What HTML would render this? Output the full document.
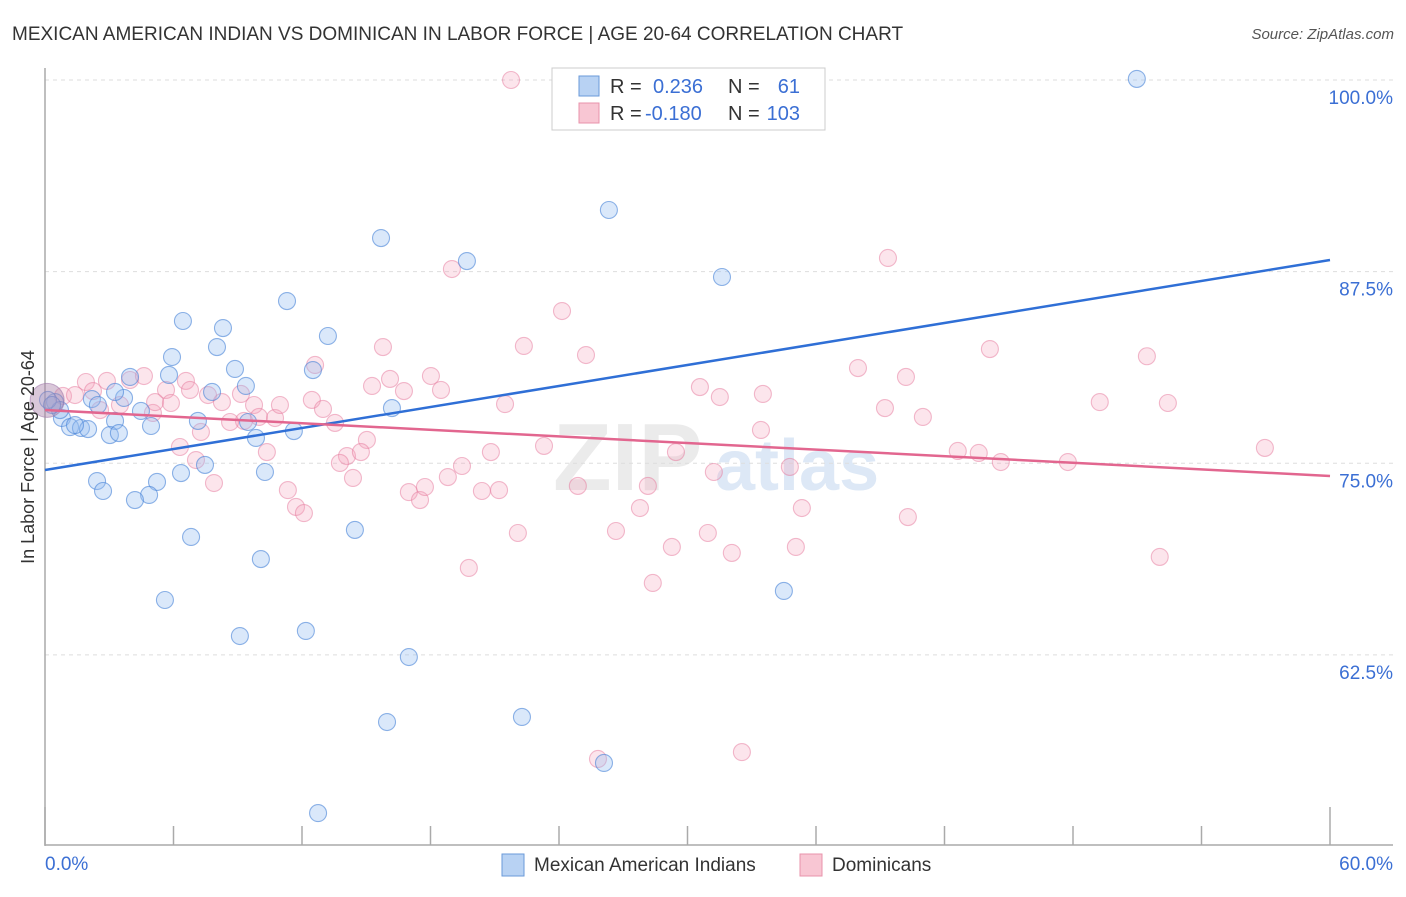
<!DOCTYPE html>
<html><head><meta charset="utf-8"><style>
body{margin:0;background:#fff;font-family:"Liberation Sans",sans-serif;}
svg text{font-family:"Liberation Sans",sans-serif;}
</style></head><body>
<svg id="chart" width="1406" height="892" xmlns="http://www.w3.org/2000/svg">
<text x="12" y="40" font-size="19" fill="#333">MEXICAN AMERICAN INDIAN VS DOMINICAN IN LABOR FORCE | AGE 20-64 CORRELATION CHART</text>
<text x="1394" y="39" font-size="15" fill="#555" font-style="italic" text-anchor="end">Source: ZipAtlas.com</text>
<g>
<text x="553" y="490" font-size="96" font-family="Liberation Serif" fill="#ebebeb" font-weight="bold">ZIP</text>
<text x="715" y="490" font-size="72" fill="#dde8f6" font-weight="bold">atlas</text>
</g>
<g id="grid"></g>
<g id="axes"></g>
<g id="marks"></g>
<text transform="translate(34,457) rotate(-90)" font-size="18" fill="#333" text-anchor="middle">In Labor Force | Age 20-64</text>
<g>
<rect x="552" y="68" width="273" height="62" fill="#fff" stroke="#ccc"/>
<rect x="579" y="76" width="20" height="20" fill="#b8d2f3" stroke="#6a9ad8"/>
<rect x="579" y="103" width="20" height="20" fill="#f8c6d3" stroke="#e893ab"/>
<text x="610" y="93" font-size="20" fill="#333">R = </text>
<text x="653" y="93" font-size="20" fill="#3b6fd4">0.236</text>
<text x="728" y="93" font-size="20" fill="#333">N =</text>
<text x="800" y="93" font-size="20" fill="#3b6fd4" text-anchor="end">61</text>
<text x="610" y="120" font-size="20" fill="#333">R = </text>
<text x="645" y="120" font-size="20" fill="#3b6fd4">-0.180</text>
<text x="728" y="120" font-size="20" fill="#333">N =</text>
<text x="800" y="120" font-size="20" fill="#3b6fd4" text-anchor="end">103</text>
</g>
<g>
<rect x="502" y="854" width="22" height="22" fill="#b8d2f3" stroke="#6a9ad8"/>
<text x="534" y="871" font-size="19" fill="#333">Mexican American Indians</text>
<rect x="800" y="854" width="22" height="22" fill="#f8c6d3" stroke="#e893ab"/>
<text x="832" y="871" font-size="19" fill="#333">Dominicans</text>
</g>
</svg>
<script>
const xTicks=[0,6,12,18,24,30,36,42,48,54,60];
const yTicks=[100,87.5,75,62.5];
const yTickLabels=["100.0%","87.5%","75.0%","62.5%"];
const xLabels=["0.0%","60.0%"];
const blueX=[50.98,26.33,15.69,19.70,31.61,11.30,6.44,8.31,13.21,8.03,5.93,8.87,12.51,5.79,3.97,9.38,7.80,2.19,3.69,16.20,4.48,7.14,3.27,0.79,4.95,1.17,1.68,2.01,11.62,3.03,3.45,9.85,7.47,6.35,10.27,2.43,5.23,2.71,4.86,4.20,14.47,6.82,10.08,5.60,34.50,12.18,9.10,16.99,15.97,22.27,26.10,12.75,0.47,0.70,0.14,0.33,1.40,9.48,2.47,3.27];
const blueY=[100.07,91.52,89.69,88.19,87.15,85.58,84.28,83.82,83.30,82.58,81.93,81.15,81.08,80.76,80.63,80.04,79.65,79.19,79.26,78.60,78.41,77.76,77.76,77.95,77.43,77.36,77.30,77.23,77.10,76.84,76.97,76.65,74.89,74.36,74.43,73.84,73.78,73.19,72.93,72.60,70.65,70.19,68.75,66.08,66.67,64.06,63.73,62.36,58.12,58.45,55.45,52.18,78.99,78.47,79.13,78.80,77.49,77.69,78.80,79.65];
const pinkX=[21.76,19.00,39.36,24.14,44.12,51.45,15.78,22.36,25.26,12.61,37.96,40.20,18.02,30.58,33.52,31.51,49.25,52.43,39.22,40.99,21.48,15.27,16.11,18.49,16.76,6.58,2.89,1.91,3.97,4.62,5.65,9.15,2.24,0.84,1.40,2.57,3.50,5.04,5.14,5.88,7.61,8.26,9.76,9.99,9.29,10.74,10.97,12.46,12.98,13.54,15.03,14.10,13.77,14.75,14.38,10.36,6.30,7.05,7.28,8.64,7.89,11.34,11.72,12.09,16.99,17.51,17.74,18.81,19.47,20.40,21.20,20.82,23.30,24.88,22.08,19.79,26.66,27.78,28.15,29.46,31.23,29.27,30.95,32.07,33.43,34.78,35.06,35.34,28.38,42.62,43.60,44.63,47.76,40.29,52.05,56.96,25.82,32.54,6.77];
const pinkY=[100.0,87.67,88.39,84.93,82.45,81.98,82.58,82.65,82.06,81.41,81.21,80.63,80.69,79.97,79.52,79.32,78.99,78.93,78.60,78.02,78.86,80.04,80.50,79.78,79.71,80.37,80.37,80.30,80.43,80.69,79.78,79.52,79.71,79.39,79.45,78.47,78.80,78.28,78.99,78.93,79.45,78.99,78.80,78.02,77.76,77.95,78.80,79.13,78.54,77.63,76.52,75.47,75.02,75.73,74.04,75.73,76.06,75.21,77.04,77.69,73.71,73.25,72.15,71.75,73.12,72.60,73.45,74.10,74.82,73.19,73.25,75.73,76.13,73.52,70.45,68.17,70.58,72.08,73.52,75.73,74.43,69.54,70.45,69.15,77.17,74.76,69.54,72.08,67.19,75.80,75.67,75.08,75.08,71.49,68.89,76.00,55.71,56.16,79.78];
const blueTrend=[74.56,88.26];
const pinkTrend=[78.47,74.17];
const trendX=[0,60];
const NS="http://www.w3.org/2000/svg";
function sx(v){return 45+v*(1285/60);}
function sy(v){return 80+(100-v)*15.33;}
function mk(tag,attrs,parent){const e=document.createElementNS(NS,tag);for(const k in attrs)e.setAttribute(k,attrs[k]);parent.appendChild(e);return e;}
const grid=document.getElementById('grid'),axes=document.getElementById('axes'),marks=document.getElementById('marks');
yTicks.forEach((t,i)=>{
  const l=mk('line',{x1:45,x2:1393,y1:sy(t),y2:sy(t),stroke:'#ddd','stroke-dasharray':'4,4'},grid);
  
  
  const tx=mk('text',{x:1393,y:sy(t)+24,'font-size':19,fill:'#3b6fd4','text-anchor':'end'},grid);
  tx.textContent=yTickLabels[i];
  
  
});
const ya=mk('line',{x1:45,x2:45,y1:68,y2:846,stroke:'#aaa','stroke-width':1.5},axes);


const xa=mk('line',{x1:45,x2:1393,y1:845,y2:845,stroke:'#aaa','stroke-width':1.5},axes);


xTicks.forEach((t,i)=>{
  const big=(i===0||i===xTicks.length-1);
  const tk=mk('line',{x1:sx(t),x2:sx(t),y1:big?807:826,y2:845,stroke:'#aaa','stroke-width':1.5},axes);
  
  
});
const xl0=mk('text',{x:45,y:870,'font-size':19,fill:'#3b6fd4'},axes);xl0.textContent=xLabels[0];


const xl1=mk('text',{x:1393,y:870,'font-size':19,fill:'#3b6fd4','text-anchor':'end'},axes);xl1.textContent=xLabels[1];


pinkX.forEach((x,i)=>{
  const c=mk('circle',{cx:sx(x),cy:sy(pinkY[i]),r:8.5,fill:'rgba(244,160,185,0.28)',stroke:'rgba(230,120,155,0.5)','stroke-width':1.1},marks);
  
  
});
blueX.forEach((x,i)=>{
  const c=mk('circle',{cx:sx(x),cy:sy(blueY[i]),r:8.5,fill:'rgba(150,190,240,0.35)',stroke:'rgba(70,130,215,0.6)','stroke-width':1.1},marks);
  
  
});
const big=mk('circle',{cx:sx(0.1),cy:sy(79.1),r:17,fill:'rgba(170,130,170,0.45)',stroke:'rgba(160,120,170,0.6)'},marks);


const bt=mk('line',{x1:sx(trendX[0]),y1:sy(blueTrend[0]),x2:sx(trendX[1]),y2:sy(blueTrend[1]),stroke:'#2f6fd6','stroke-width':2.5},marks);


const pt=mk('line',{x1:sx(trendX[0]),y1:sy(pinkTrend[0]),x2:sx(trendX[1]),y2:sy(pinkTrend[1]),stroke:'#e2668f','stroke-width':2.5},marks);


</script>
</body></html>
